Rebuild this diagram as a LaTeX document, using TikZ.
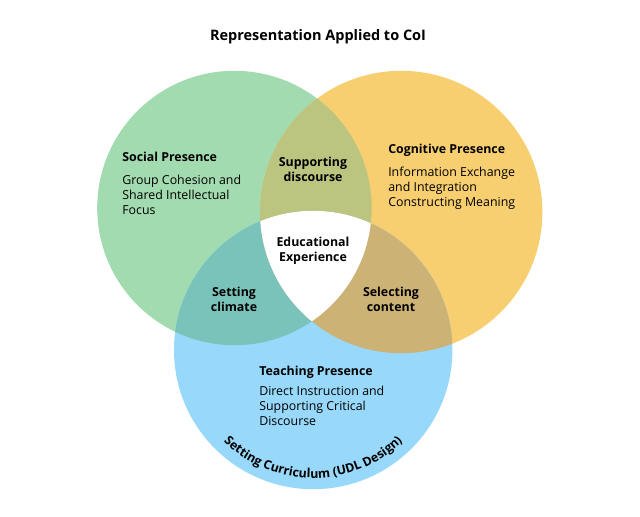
\documentclass[tikz,border=0pt]{standalone}
\usepackage{fontspec}
\setmainfont{Open Sans}
\usetikzlibrary{positioning, decorations.text}

\definecolor{socialgreen}{HTML}{A3DBB0}
\definecolor{cognitiveyellow}{HTML}{F7CF70}
\definecolor{teachingblue}{HTML}{98D8FA}
\definecolor{discourseolive}{HTML}{BBC57F}
\definecolor{climateteal}{HTML}{7AC3BA}
\definecolor{contenttan}{HTML}{CDB275}

\def\rsocial{3.43}
\def\rcognitive{3.53}
\def\rteaching{3.48}

\begin{document}
\begin{tikzpicture}[
    title/.style = {font=\bfseries\fontsize{10.3}{12}\selectfont, inner sep=0pt},
    head/.style = {font=\bfseries\fontsize{8.8}{10.7}\selectfont, inner sep=0pt, align=left},
    body/.style = {font=\fontsize{8.8}{10.7}\selectfont, inner sep=0pt, align=left},
    lens/.style = {font=\bfseries\fontsize{8.8}{10.7}\selectfont, inner sep=0pt, align=center}
]
    \useasboundingbox (0,0) rectangle (16,12.9);

    % === CIRCLE CENTRES ===
    \coordinate (social) at (5.86,7.70);
    \coordinate (cognitive) at (10.03,7.60);
    \coordinate (teaching) at (7.83,4.15);

    % === THREE PRESENCES ===
    \fill[socialgreen] (social) circle (\rsocial);
    \fill[cognitiveyellow] (cognitive) circle (\rcognitive);
    \fill[teachingblue] (teaching) circle (\rteaching);

    % === OVERLAPS ===
    \begin{scope}
        \clip (social) circle (\rsocial);
        \fill[discourseolive] (cognitive) circle (\rcognitive);
        \fill[climateteal] (teaching) circle (\rteaching);
    \end{scope}
    \begin{scope}
        \clip (cognitive) circle (\rcognitive);
        \fill[contenttan] (teaching) circle (\rteaching);
    \end{scope}
    \begin{scope}
        \clip (social) circle (\rsocial);
        \clip (cognitive) circle (\rcognitive);
        \fill[white] (teaching) circle (\rteaching);
    \end{scope}

    % Title
    \node[title] (heading) at (7.95,11.975) {Representation Applied to CoI};

    % === SOCIAL PRESENCE ===
    \node[head, anchor=west] (socialhead) at (3.05,8.975) {Social Presence};
    \node[body, anchor=west] (socialtext) at (3.05,8.025) {
        Group Cohesion and\\
        Shared Intellectual\\
        Focus
    };

    % === COGNITIVE PRESENCE ===
    \node[head, anchor=west] (cognitivehead) at (9.7,9.15) {Cognitive Presence};
    \node[body, anchor=west] (cognitivetext) at (9.7,8.2) {
        Information Exchange\\
        and Integration\\
        Constructing Meaning
    };

    % === TEACHING PRESENCE ===
    \node[head, anchor=west] (teachinghead) at (6.475,3.6) {Teaching Presence};
    \node[body, anchor=west] (teachingtext) at (6.475,2.75) {
        Direct Instruction and\\
        Supporting Critical\\
        Discourse
    };

    % === OVERLAP LABELS ===
    \node[lens] (discourse) at (7.825,8.6625) {Supporting\\discourse};
    \node[lens] (climate) at (5.85,5.4125) {Setting\\climate};
    \node[lens] (content) at (9.775,5.4125) {Selecting\\content};
    \node[lens] (experience) at (7.825,6.6375) {Educational\\Experience};

    % curved label round the bottom of teaching presence
    \path[decorate, decoration={text along path, text align=center,
        text={|\bfseries\fontsize{8.8}{10}\selectfont|Setting Curriculum (UDL Design)}}]
        ([shift={(217:3.2)}]teaching) arc[start angle=217, end angle=323, radius=3.2];

\end{tikzpicture}
\end{document}
